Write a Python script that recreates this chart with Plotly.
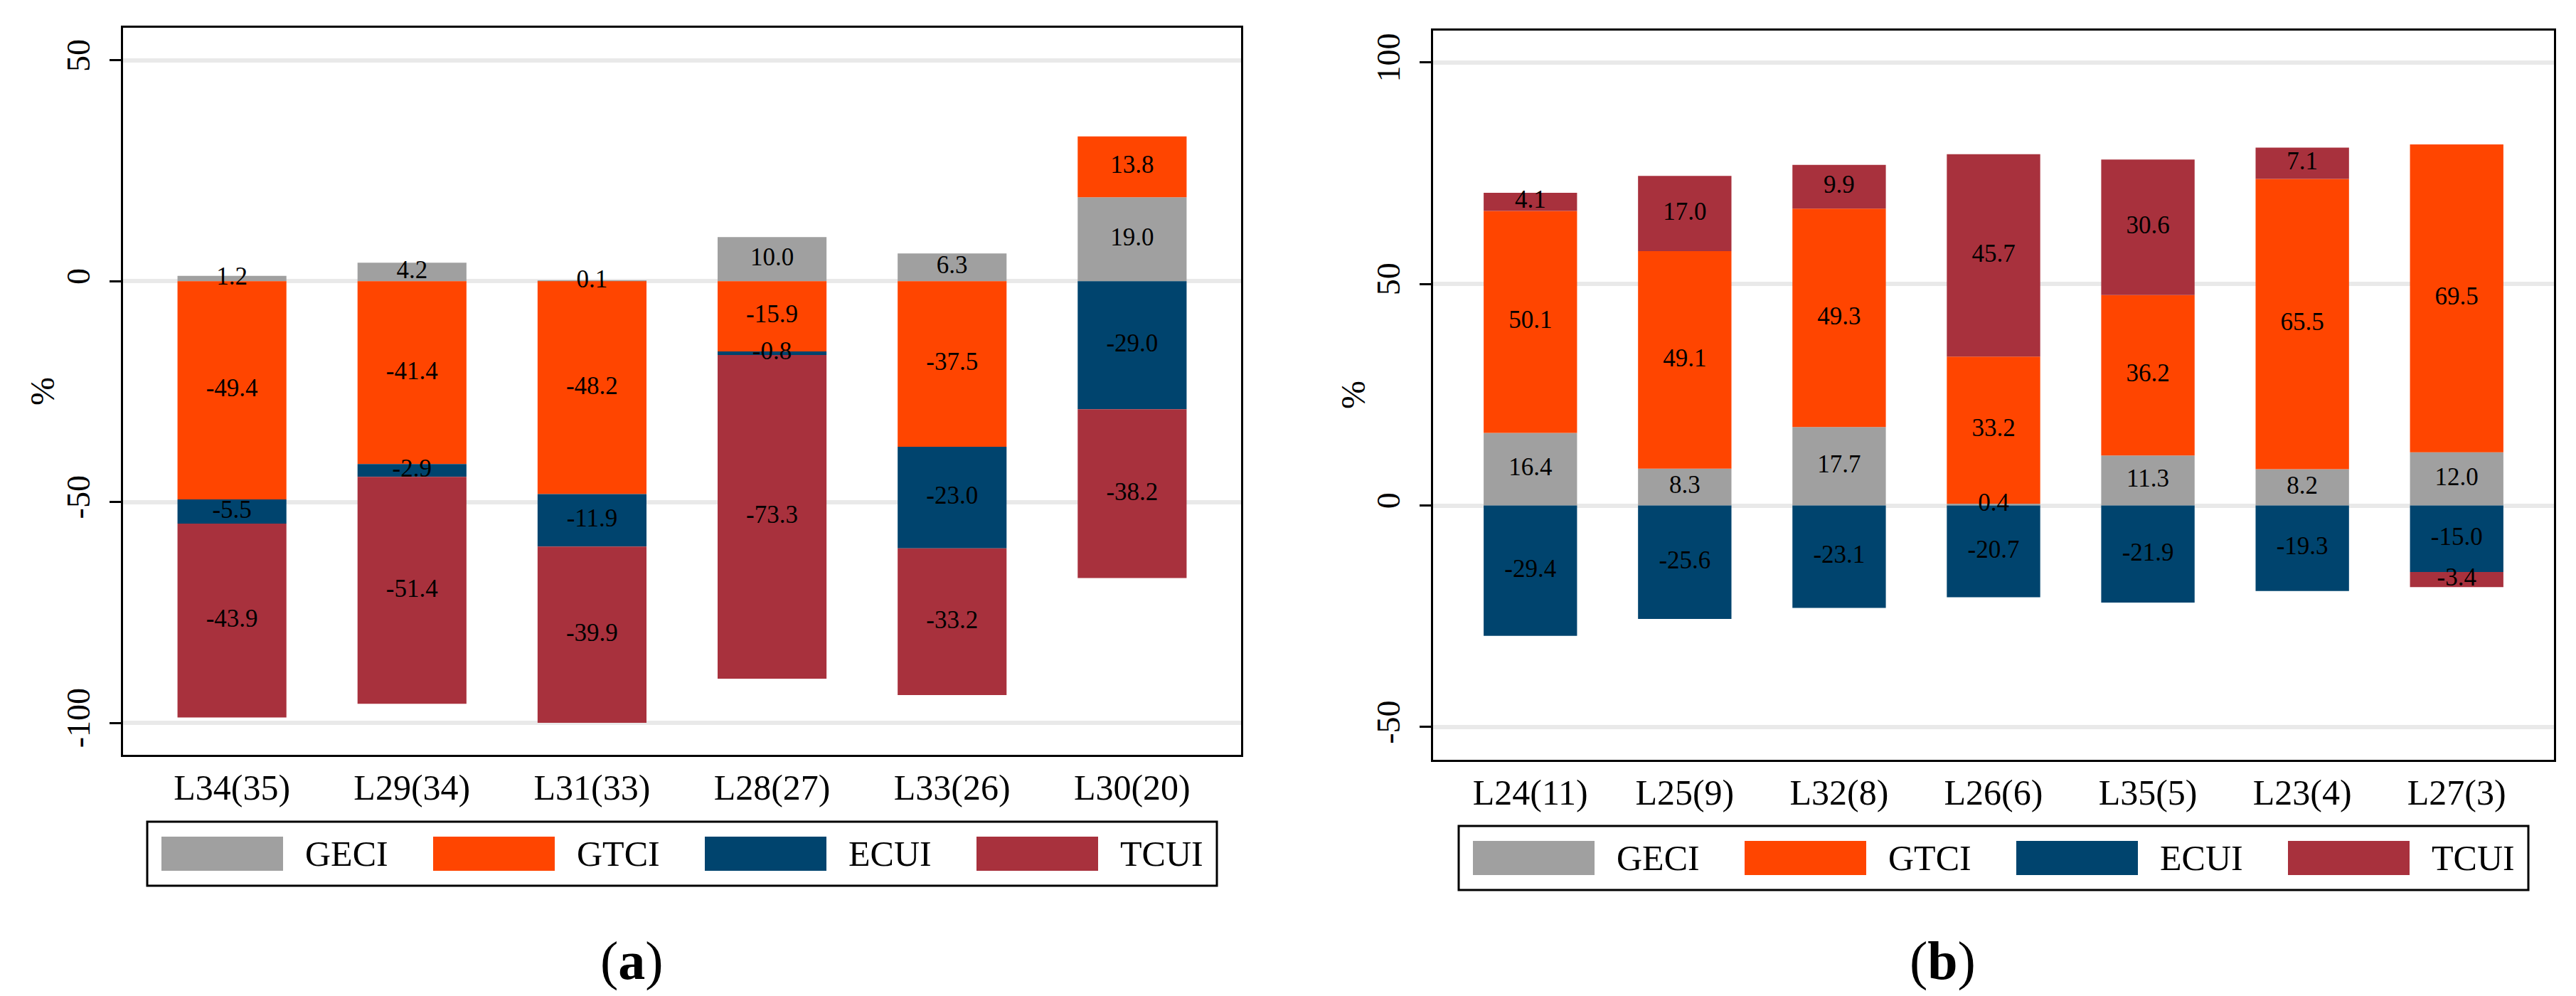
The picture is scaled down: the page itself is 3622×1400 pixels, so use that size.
import plotly.graph_objects as go

# panel (a)
cats_a = ['L34(35)', 'L29(34)', 'L31(33)', 'L28(27)', 'L33(26)', 'L30(20)']
geci_a = [1.2, 4.2, 0.1, 10.0, 6.3, 19.0]
gtci_a = [-49.4, -41.4, -48.2, -15.9, -37.5, 13.8]
ecui_a = [-5.5, -2.9, -11.9, -0.8, -23.0, -29.0]
tcui_a = [-43.9, -51.4, -39.9, -73.3, -33.2, -38.2]

# panel (b)
cats_b = ['L24(11)', 'L25(9)', 'L32(8)', 'L26(6)', 'L35(5)', 'L23(4)', 'L27(3)']
geci_b = [16.4, 8.3, 17.7, 0.4, 11.3, 8.2, 12.0]
gtci_b = [50.1, 49.1, 49.3, 33.2, 36.2, 65.5, 69.5]
ecui_b = [-29.4, -25.6, -23.1, -20.7, -21.9, -19.3, -15.0]
tcui_b = [4.1, 17.0, 9.9, 45.7, 30.6, 7.1, -3.4]

series_names = ['GECI', 'GTCI', 'ECUI', 'TCUI']
series_colors = ['#A0A0A0', '#FF4500', '#00446E', '#A8313D']

ticks_a = [-100, -50, 0, 50]
ticks_b = [-50, 0, 50, 100]

W, H = 3622, 1400
FONT = 'Liberation Serif'


def px(x):
	return x / W

def py(y):
	return 1 - y / H


fig = go.Figure()

panels = [
	(cats_a, [geci_a, gtci_a, ecui_a, tcui_a], 'x', 'y'),
	(cats_b, [geci_b, gtci_b, ecui_b, tcui_b], 'x2', 'y2'),
]
for cats, vals, xa, ya in panels:
	pos = [0.0] * len(cats)
	neg = [0.0] * len(cats)
	for name, color, v in zip(series_names, series_colors, vals):
		fig.add_trace(go.Bar(
			x=cats, y=v, name=name, marker=dict(color=color, line=dict(width=0)),
			xaxis=xa, yaxis=ya, showlegend=False))
	# value labels in the middle of each segment, drawn on top of all bars
	lx, ly, lt = [], [], []
	for v in vals:
		for i, t in enumerate(v):
			if t >= 0:
				mid = pos[i] + t / 2
				pos[i] += t
			else:
				mid = neg[i] + t / 2
				neg[i] += t
			lx.append(cats[i])
			ly.append(mid)
			lt.append(f'{t:.1f}')
	fig.add_trace(go.Scatter(x=lx, y=ly, text=lt, mode='text', textposition='middle center',
		textfont=dict(family=FONT, size=35, color='black'), xaxis=xa, yaxis=ya,
		showlegend=False, hoverinfo='skip'))

axis_common = dict(showline=True, mirror=True, linecolor='black', linewidth=3)
yaxis_common = dict(axis_common, ticks='outside', ticklen=16, tickwidth=3, tickcolor='black',
	tickangle=-90, tickfont=dict(family=FONT, size=46, color='black'), ticklabelstandoff=10,
	showgrid=True, gridcolor='#E9E9E9', gridwidth=6, zeroline=False)
xaxis_common = dict(axis_common, showgrid=False, ticks='', ticklabelstandoff=0,
	tickfont=dict(family=FONT, size=50, color='black'), type='category')

fig.update_layout(
	width=W, height=H,
	margin=dict(l=0, r=0, t=0, b=0),
	paper_bgcolor='white', plot_bgcolor='white',
	barmode='relative', bargap=0.395,
	xaxis=dict(xaxis_common, domain=[px(165), px(1737)], range=[-0.605, 5.605], anchor='y'),
	yaxis=dict(yaxis_common, domain=[py(1053), py(31)], range=[-107.25, 57.4],
		tickvals=ticks_a, ticktext=[str(t) for t in ticks_a], anchor='x'),
	xaxis2=dict(xaxis_common, domain=[px(2007), px(3583)], range=[-0.63, 6.63], anchor='y2'),
	yaxis2=dict(yaxis_common, domain=[py(1060), py(35)], range=[-57.4, 107.2],
		tickvals=ticks_b, ticktext=[str(t) for t in ticks_b], anchor='x2'),
)

# legends drawn as boxes under each panel, plus y titles and captions
shapes = []
annotations = []
for left, top, caption, cap_x, ytx, yty in [(199, 1147, '(<b>a</b>)', 880, 51, 542),
		(2043, 1153, '(<b>b</b>)', 2723, 1894, 547)]:
	shapes.append(dict(type='rect', xref='paper', yref='paper',
		x0=px(left), x1=px(left + 1504), y0=py(top + 90), y1=py(top),
		line=dict(color='black', width=3), fillcolor='white'))
	for i, (name, color) in enumerate(zip(series_names, series_colors)):
		sx = left + 20 + i * 382
		shapes.append(dict(type='rect', xref='paper', yref='paper',
			x0=px(sx), x1=px(sx + 171), y0=py(top + 69), y1=py(top + 21),
			line=dict(width=0), fillcolor=color))
		annotations.append(dict(xref='paper', yref='paper', x=px(sx + 200), y=py(top + 45),
			text=name, showarrow=False, xanchor='left', yanchor='middle',
			font=dict(family=FONT, size=50, color='black')))
	annotations.append(dict(xref='paper', yref='paper', x=px(cap_x), y=py(1342),
		text=caption, showarrow=False, xanchor='center', yanchor='middle',
		font=dict(family=FONT, size=76, color='black')))
	annotations.append(dict(xref='paper', yref='paper', x=px(ytx), y=py(yty),
		text='%', showarrow=False, xanchor='center', yanchor='middle', textangle=-90,
		font=dict(family=FONT, size=48, color='black')))

fig.update_layout(shapes=shapes, annotations=annotations)

fig.write_html("out.html")
